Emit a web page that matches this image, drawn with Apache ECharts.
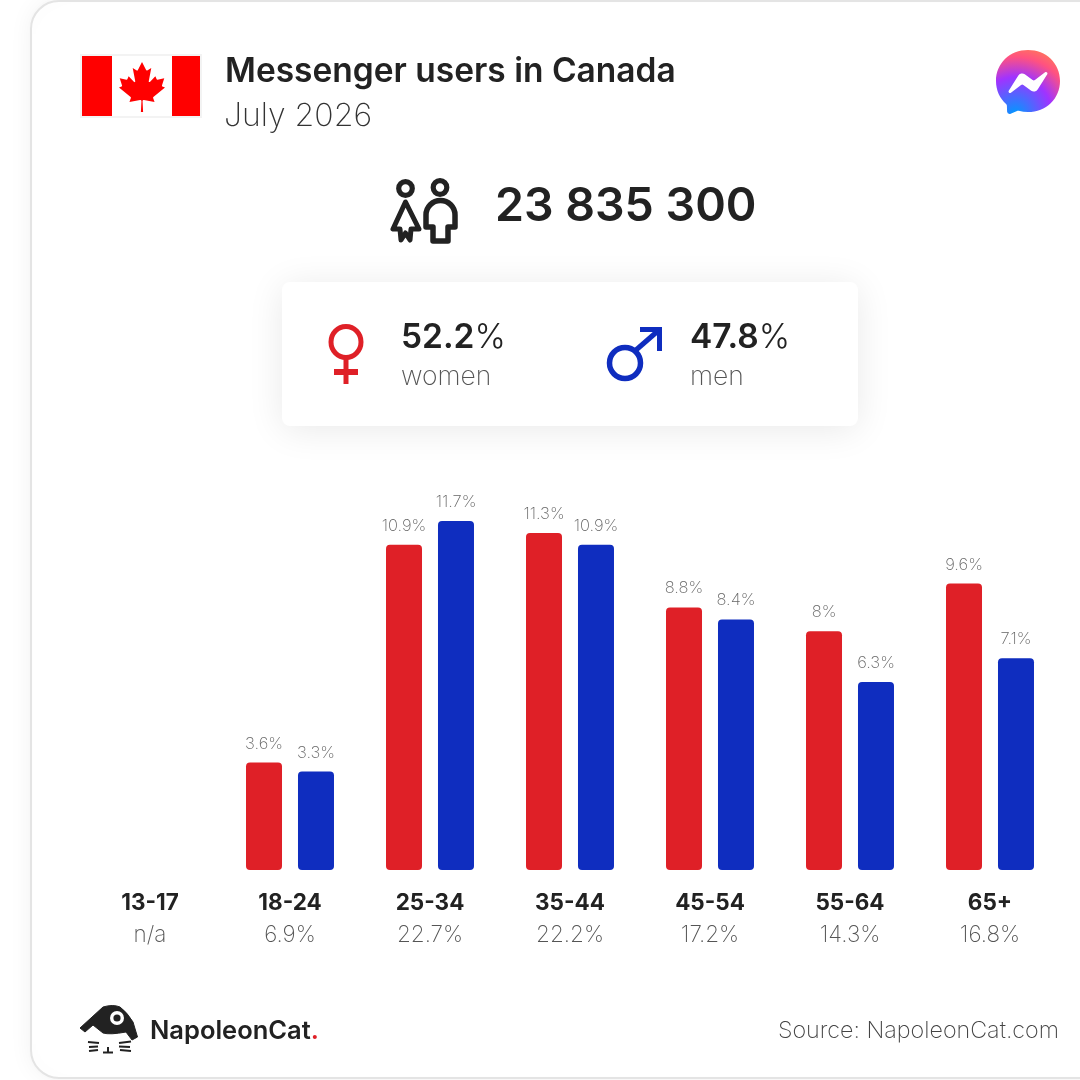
<!DOCTYPE html>
<html><head><meta charset="utf-8">
<style>html,body{margin:0;padding:0;background:#fff}#c{width:1080px;height:1080px}</style>
<script src="https://cdn.jsdelivr.net/npm/echarts@6/dist/echarts.min.js"></script>
</head><body><div id="c"></div>
<script>
const categories = ['13-17','18-24','25-34','35-44','45-54','55-64','65+'];
const totals = ['n/a','6.9%','22.7%','22.2%','17.2%','14.3%','16.8%'];
const women = [null,3.6,10.9,11.3,8.8,8,9.6];
const men = [null,3.3,11.7,10.9,8.4,6.3,7.1];
const FONT = 'Inter';
const RED = '#DF2027', BLUE = '#0F2DBF', INK = '#222222';

const leaf = 'm-90 2030 45-863a95 95 0 0 0-111-98l-859 151 116-320a65 65 0 0 0-20-73l-941-762 212-99a65 65 0 0 0 34-79l-186-572 542 115a65 65 0 0 0 73-38l105-247 423 454a65 65 0 0 0 111-57l-204-1052 327 189a65 65 0 0 0 91-27l332-652 332 652a65 65 0 0 0 91 27l327-189-204 1052a65 65 0 0 0 111 57l423-454 105 247a65 65 0 0 0 73 38l542-115-186 572a65 65 0 0 0 34 79l212 99-941 762a65 65 0 0 0-20 73l116 320-859-151a95 95 0 0 0-111 98l45 863z';
const bubble = 'M400 0C174.7 0 0 165.1 0 388c0 116.6 47.8 217.4 125.6 287 6.5 5.8 10.5 14 10.7 22.8l2.2 71.2a32 32 0 0 0 44.9 28.3l79.4-35c6.7-3 14.3-3.5 21.4-1.6 36.5 10 75.3 15.4 115.8 15.4 225.3 0 400-165.1 400-388S625.3 0 400 0z';
const bolt = 'M159.8 501.5l117.5-186.4a60 60 0 0 1 86.8-16l93.5 70.1a24 24 0 0 0 28.9-.1l126.2-95.8c16.8-12.8 38.8 7.4 27.6 25.3L522.7 484.9a60 60 0 0 1-86.8 16l-93.5-70.1a24 24 0 0 0-28.9.1l-126.2 95.8c-16.8 12.8-38.8-7.4-27.5-25.2z';
const womanIcon = 'M405.5 202 L393 229 L400 229 L401 240 L405.5 233 L410 240 L411 229 L419 229 Z';
const manIcon = 'M426 227 L426 215 A14.5 14.5 0 0 1 455 215 L455 227 L448 227 L448 241 L433 241 L433 227 Z';
const catHead = 'M80 1028 L103 1007 Q113 1004 120 1007 Q127 1012 133 1022 L137.5 1037 L132 1040 L126 1032 Q110 1035 103 1033 L93 1025 L85 1032 Z';

let shapeCount = 0;
function shapeEl(d, box, style, z){
  const name = 'svgShape' + (shapeCount++);
  const Cls = echarts.graphic.extendPath(d, {});
  echarts.graphic.registerShape(name, Cls);
  const el = {type:name, z:z||6, shape:{}, style};
  if (box){
    const r = new Cls({shape:{}}).getBoundingRect();
    el.scaleX = box.w / r.width; el.scaleY = box.h / r.height;
    el.x = box.x - r.x * el.scaleX; el.y = box.y - r.y * el.scaleY;
  }
  return el;
}
function txt(x,y,text,size,weight,fill,align){
  return {type:'text',x,y,z:20,style:{text,fontFamily:FONT,fontSize:size,fontWeight:weight,fill,align:align||'left',verticalAlign:'middle'}};
}
function rect(x,y,w,h,fill,r){
  return {type:'rect',z:5,shape:{x,y,width:w,height:h,r:r||0},style:{fill}};
}
function line(x1,y1,x2,y2,stroke,w,cap){ return {type:'line',z:6,shape:{x1,y1,x2,y2},style:{stroke,lineWidth:w,lineCap:cap||'butt'}}; }
function ring(cx,cy,r,stroke,w){ return {type:'circle',z:6,shape:{cx,cy,r},style:{fill:'#fff',stroke,lineWidth:w}}; }
function pct(t){ return {text:`{b|${t}}{p|%}`,verticalAlign:'middle',rich:{b:{fontFamily:FONT,fontSize:33.5,fontWeight:600,fill:INK},p:{fontFamily:FONT,fontSize:33.5,fontWeight:300,fill:INK}}}; }

const graphics = [
  {type:'rect',z:-5,shape:{x:31,y:1,width:1200,height:1077,r:28},style:{fill:'#fff',stroke:'#e4e4e4',lineWidth:2,shadowBlur:24,shadowColor:'rgba(0,0,0,0.06)'}},
  rect(80,54,122,64,'#f3f3f3'), rect(82,56,118,60,'#ffffff'),
  rect(82,56,30,60,'#ff0000'), rect(172,56,28,60,'#ff0000'),
  shapeEl(leaf,{x:119,y:62,w:46,h:50},{fill:'#ff0000'}),
  txt(225,72,'Messenger users in Canada',33.5,600,INK),
  txt(224,116,'July 2026',32,200,'#333333'),
  shapeEl(bubble,{x:996,y:50,w:64,h:64},{fill:new echarts.graphic.RadialGradient(0.3,1,1.05,[
    {offset:0,color:'#0099FF'},{offset:0.55,color:'#A033FF'},{offset:0.85,color:'#FF5280'},{offset:1,color:'#FF7061'}])}),
  shapeEl(bolt,{x:1008.5,y:72,w:39,h:21},{fill:'#ffffff'},7),
  ring(405.5,188.5,6.8,INK,5.2), ring(440,187.5,6.8,INK,5.2),
  shapeEl(womanIcon,null,{fill:'none',stroke:INK,lineWidth:5,lineJoin:'round'}),
  shapeEl(manIcon,null,{fill:'none',stroke:INK,lineWidth:5.5,lineJoin:'round'}),
  txt(495,207,'23 835 300',46.5,600,INK),
  {type:'rect',z:1,shape:{x:282,y:282,width:576,height:144,r:8},style:{fill:'#fff',shadowBlur:36,shadowColor:'rgba(0,0,0,0.09)',shadowOffsetY:4}},
  line(346,358,346,384,RED,5), line(334,372,358,372,RED,6),
  {type:'ellipse',z:6,shape:{cx:346,cy:342,rx:15,ry:15.5},style:{fill:'#fff',stroke:RED,lineWidth:5}},
  line(636,350,659,330,BLUE,5), line(640,329.5,662,329.5,BLUE,5), line(659.5,327,659.5,351,BLUE,5),
  ring(625,363,15.5,BLUE,5.5),
  {type:'text',x:401,y:338,z:20,style:pct('52.2')},
  {type:'text',x:690,y:338,z:20,style:pct('47.8')},
  txt(401,377,'women',26.5,200,'#555555'),
  txt(690,377,'men',26.5,200,'#555555'),
  shapeEl(catHead,null,{fill:INK,stroke:INK,lineWidth:1,lineJoin:'round'}),
  {type:'circle',z:7,shape:{cx:117,cy:1018,r:7},style:{fill:'#fff'}},
  {type:'circle',z:8,shape:{cx:117,cy:1018,r:3.6},style:{fill:INK}},
  line(88,1042,99,1043,INK,2), line(89,1047,98,1046.5,INK,2), line(89,1051,98,1050,INK,2),
  line(119,1043,131,1041.5,INK,2), line(119,1046.5,130,1047,INK,2), line(120,1050,131,1051,INK,2),
  line(108,1047,108,1053,INK,2), line(103,1052.5,113,1052.5,INK,2),
  {type:'text',x:150,y:1031,z:20,style:{text:'{a|NapoleonCat}{r|.}',verticalAlign:'middle',rich:{a:{fontFamily:FONT,fontSize:25.5,fontWeight:600,fill:INK},r:{fontFamily:FONT,fontSize:25.5,fontWeight:600,fill:RED}}}},
  txt(1059,1031,'Source: NapoleonCat.com',23.3,200,'#444444','right')
];

const barLabel = {show:true,position:'top',distance:10.5,fontFamily:FONT,fontSize:16.5,fontWeight:200,color:'#666666',formatter:p=>p.value+'%'};
const chart = echarts.init(document.getElementById('c'),null,{renderer:'canvas'});
chart.setOption({
  animation:false,
  backgroundColor:'#ffffff',
  graphic:{elements:graphics},
  grid:{left:80,width:980,top:512,height:358,containLabel:false},
  xAxis:{type:'category',data:categories,axisLine:{show:false},axisTick:{show:false},
    axisLabel:{interval:0,margin:17,formatter:(v,i)=>`{c|${v}}\n{t|${totals[i]}}`,
      rich:{c:{fontFamily:FONT,fontSize:22.5,fontWeight:700,color:INK,lineHeight:32,align:'center'},
            t:{fontFamily:FONT,fontSize:22.5,fontWeight:200,color:'#555555',lineHeight:32,align:'center'}}}},
  yAxis:{type:'value',min:0,max:12,show:false,splitLine:{show:false}},
  series:[
    {type:'bar',name:'women',data:women,barWidth:36,barGap:'44.4%',itemStyle:{color:RED,borderRadius:4},label:barLabel},
    {type:'bar',name:'men',data:men,barWidth:36,itemStyle:{color:BLUE,borderRadius:4},label:barLabel}
  ]
});
</script></body></html>
